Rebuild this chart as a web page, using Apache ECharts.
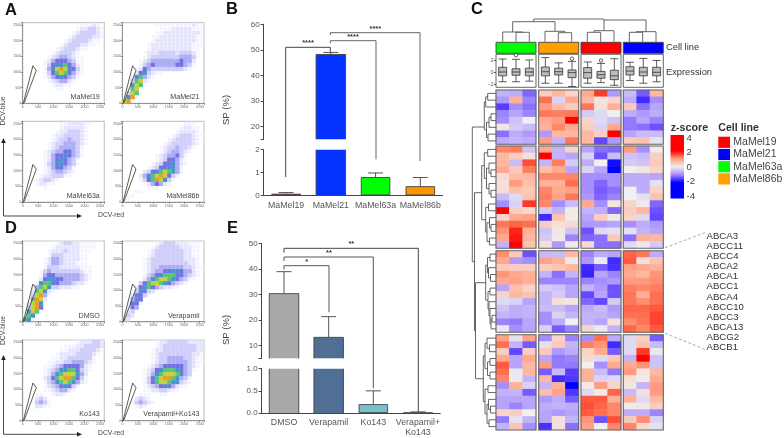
<!DOCTYPE html>
<html>
<head>
<meta charset="utf-8">
<style>html,body{margin:0;padding:0;background:#fff}#chart{width:784px;height:438px}</style>
<script src="https://cdn.jsdelivr.net/npm/echarts@6/dist/echarts.min.js"></script>
</head>
<body>
<div id="chart"></div>
<script>
// ---- bar panels ----
const spLines = ['MaMel19', 'MaMel21', 'MaMel63a', 'MaMel86b'];
const spValues = [0.07, 48.2, 0.8, 0.4];
const spErrors = [0.12, 49, 0.98, 0.78];
const spColors = ['#ff0000', '#0433ff', '#00ff00', '#ff9300'];

const drugs = ['DMSO', 'Verapamil', 'Ko143', 'Verapamil+\nKo143'];
const drugValues = [30.3, 13.2, 0.2, 0.005];
const drugErrors = [38.9, 21.3, 0.5, 0.025];
const drugColors = ['#a9a9a9', '#4f6f94', '#76c3cf', '#555555'];

// ---- flow panels: density level per cell, top row first ----
const densMel19 = ['00000000000000111210','00000000000001223321','00000000000012333321','00000000000123333221','00000000001233332110','00000000012333221100','00000000123332110000','00000001233321000000','00000012344321100000','00000124555431100000','00000135667542100000','00000146898653100000','00000135787542100000','00000124565431000000','00000012344210000000','00000001221100000000','00000000110000000000','00000000000000000000','00000000000000000000','10000000000000000000'];
const densMel21 = ['00000000111111111211','00000000011122222111','00000000112222222221','00000001122222222211','00000001222222222211','00000012222222222111','00000012222222222110','00000122233332333210','00000123333333444310','00001234444444544200','00001345444445543100','00012543333333321000','00025632110000000000','00167421000000000000','00378210000000000000','00687100000000000000','01781000000000000000','03871000000000000000','06910000000000000000','89100000000000000000'];
const densMel63a = ['00000000011222211000','00000000012222210000','00000000122333210000','00000001223333210000','00000001233433210000','00000012334443210000','00000012344443100000','00000123445543100000','00000124556543100000','00000124565431000000','00000134665431000000','00000124554310000000','00000123443210000000','00001223331100000000','00012332100000000000','00012211000000000000','00000100000000000000','00000000000000000000','01000000000000000000','11000000000000000000'];
const densMel86b = ['00000000000000011100','00000000000000122110','00000000000001222210','00000000000012333211','00000000000123333210','00000000001233333210','00000000012334332100','00000000012344321000','00000000123445310000','00000000123554210000','00000001235564210000','00000012355664100000','00000235678764100000','00002467898531000000','00001357986310000000','00000124542100000000','00000011100000000000','00011000000000000000','01100000000000000000','11000000000000000000'];
const densDmso = ['00000000123322111100','00000001222222111100','00000012223222111000','00000013332222110000','00000124432222110000','00000124432221110000','00000133322222111000','00001343333333211000','00001455444444321000','00002566554444321000','00016775544432210000','00147863322211000000','00278621000000000000','00389410000000000000','00798200000000000000','02896000000000000000','03895000000000000000','06870000000000000000','07610000000000000000','76100000000000000000'];
const densVera = ['00000000123332221110','00000001233333222110','00000012333333322110','00000012333333322110','00000123333333322210','00000123333333332210','00000123344444433211','00000123445566544210','00000134567775543210','00000246788765431100','00003578876543210000','00025675432211000000','00036532000000000000','00255310000000000000','00465000000000000000','01551000000000000000','01540000000000000000','02300000000000000000','03200000000000000000','32000000000000000000'];
const densKo = ['00000000000001222332','00000000001112233332','00000000011222333321','00000000122223333210','00000001122333333100','00000011223344432100','00000112345555421000','00000123466775321000','00000124678886420000','00000235789975310000','00000134678764210000','00000123456531000000','00000112344210000000','00011001221000000000','00023200000000000000','00134310000000000000','00022110000000000000','00000000000000000000','00000000000000000000','10000000000000000000'];
const densVeraKo = ['00000000122333332222','00000000123333333322','00000001223333333322','00000001233333333221','00000001233444433211','00000001233444443211','00000012345555543210','00000123567776543100','00000124678887643000','00000135789976431000','00000135788766321000','00000123456542110000','00000112233211000000','00001110011000000000','00023210000000000000','00134321000000000000','00012100000000000000','00000000000000000000','00000000000000000000','10000000000000000000'];
const gateRed = [20, 330, 440, 50, 20];
const gateBlue = [0, 1200, 1050, 20, 0];

// ---- heatmap z values, four sample groups of three columns per row ----
const zBlock1 = [
  [-0.8,-0.9,-1.6, 0.6,1.0,0.5, 1.2,2.5,-1.1, -0.7,-1.7,1.0],
  [-1.1,1.1,-1.3, 2.0,-0.4,1.2, 1.0,0.2,0.5, -0.9,-2.3,-1.2],
  [-2.0,-1.2,-1.5, 1.4,0.9,0.6, 1.9,0.3,1.1, 0.7,-1.5,-1.0],
  [-1.3,-1.0,-1.3, 1.9,1.8,1.9, -0.5,-0.3,0.0, -0.9,-1.1,-0.9],
  [-1.2,-0.6,0.0, 1.2,1.4,3.0, 0.5,-0.3,-0.6, -1.4,-1.0,-1.3],
  [0.2,-0.5,-0.7, 1.1,1.7,1.2, 0.6,-0.4,1.2, -1.4,-1.5,-1.8],
  [-1.5,-0.9,-1.1, -1.1,1.0,1.0, 1.0,0.6,3.0, -1.0,-0.7,-0.7],
  [-0.9,-0.8,-0.9, 1.4,-0.8,1.9, 1.0,-1.9,-1.1, 0.7,0.8,-0.2]
];
const zBlock2 = [
  [1.7,1.8,-0.6, 1.2,-0.8,0.5, -1.0,-1.5,-1.6, 1.4,-1.2,0.1],
  [1.0,0.6,0.3, 3.0,-0.8,-1.0, -0.4,-1.8,-0.7, -0.6,-0.7,0.6],
  [1.0,-0.7,2.3, -0.8,1.8,-0.5, -0.9,0.0,-2.8, -0.5,-0.6,0.7],
  [1.2,0.7,1.8, 0.9,1.2,-1.0, -0.4,-1.0,-3.0, 0.0,0.2,0.5],
  [0.4,0.9,1.0, 1.7,1.7,1.7, -1.2,-1.2,-1.2, -0.9,-0.9,-1.0],
  [0.3,1.4,0.9, 1.1,1.1,2.0, -1.2,-1.6,-1.2, -0.9,-0.9,-0.2],
  [0.3,0.9,0.7, 1.7,1.2,1.3, -1.2,-1.7,-1.5, 0.0,-0.9,0.5],
  [-0.7,-0.3,0.8, 1.8,1.3,1.9, -1.1,-1.6,-1.3, 0.0,-0.2,0.8],
  [-1.2,-0.4,2.5, 1.7,-1.2,-0.7, 1.2,-1.2,0.2, 0.5,0.1,-1.6],
  [3.0,0.6,0.4, -0.5,-0.8,0.1, -0.8,-0.9,-1.6, 0.6,1.0,-1.8],
  [0.5,1.2,1.3, -2.3,0.8,0.1, -1.0,0.6,0.1, 0.5,-0.3,-1.9],
  [1.9,2.1,2.0, 0.6,0.3,0.4, -1.1,-1.1,-1.0, -1.2,-0.9,-1.1],
  [1.5,2.7,1.1, -0.6,0.2,-0.6, -1.8,-0.3,-0.2, -0.2,-0.8,-1.0],
  [1.2,2.8,1.0, -0.5,0.1,-1.3, -1.6,-1.5,0.7, -1.5,1.1,1.0],
  [-0.8,3.0,0.8, 0.3,-1.1,0.1, 0.4,-1.5,-1.5, -0.3,-0.1,-0.5]
];
const zBlock3 = [
  [1.6,0.7,-1.8, -0.7,-0.7,1.0, -1.3,-0.9,-1.0, 2.1,1.9,-0.9],
  [1.2,-1.1,-1.2, 1.3,1.1,-0.1, -1.1,-0.1,-2.3, 2.2,0.3,0.8],
  [0.7,0.6,0.6, 0.6,0.8,1.0, -2.3,-1.7,-2.2, 1.3,1.2,1.1],
  [1.5,1.2,1.1, -0.8,-1.5,-0.8, -2.4,-1.0,-1.3, 1.2,1.0,1.5],
  [1.2,1.3,1.1, -1.3,-1.3,-1.3, -1.3,-1.2,-1.1, 1.4,1.4,1.6],
  [-1.0,0.9,0.5, -0.5,-0.6,-1.0, -0.8,-1.1,-1.8, 1.8,1.7,1.8],
  [0.5,1.0,0.8, -0.8,-0.5,-1.0, -1.9,-1.0,-1.8, 1.9,1.1,2.0],
  [-0.3,-0.4,-1.0, -0.8,0.3,0.2, -1.6,-1.9,-0.5, 1.9,1.6,2.0],
  [-0.6,-0.9,-0.8, -0.7,-0.7,-1.0, -0.9,-0.7,-1.1, 2.1,2.1,2.2],
  [-0.8,-0.9,-0.8, -1.2,-0.4,-0.8, -0.8,-0.8,-1.0, 2.0,2.0,2.4],
  [-1.3,-1.4,-1.0, -1.2,-0.9,0.0, -0.8,-1.0,0.3, 1.6,1.9,2.4],
  [-0.1,-1.2,-1.0, -0.4,-1.7,-1.3, 0.5,-0.1,-0.8, 2.1,1.7,2.2]
];
const zBlock4 = [
  [1.3,-0.2,1.3, -1.2,0.5,-1.3, -1.2,2.0,-0.9, -0.3,0.6,-1.7],
  [2.0,-0.8,-1.7, -0.2,0.7,-0.8, 1.8,1.5,-2.3, -0.3,0.8,-0.7],
  [0.6,-1.9,0.6, 0.7,-1.1,-0.9, 0.5,1.2,-1.7, -0.3,2.5,-0.1],
  [1.2,-1.0,1.2, -1.0,-1.4,-1.3, 0.4,-0.3,0.7, -0.8,3.0,-0.6],
  [2.2,-1.0,1.0, 1.4,-1.4,-1.4, 0.0,-1.2,1.2, 1.2,1.5,-0.6],
  [2.0,-0.1,1.0, -1.7,-0.7,-2.0, 1.1,-0.7,-1.4, 1.4,0.2,1.0],
  [1.7,-0.1,-0.8, 1.0,-2.3,-2.1, 1.1,-0.4,-0.3, 0.3,0.1,1.2],
  [-1.2,1.1,-0.4, -0.8,1.1,-3.0, 0.1,1.4,0.5, 0.2,-0.8,1.4],
  [-0.8,-0.8,-1.7, 0.9,1.3,-2.1, -0.3,0.1,2.1, -0.7,0.3,1.4],
  [-1.0,-1.0,-1.0, -1.1,-0.9,-1.7, 2.2,2.2,1.1, 1.1,-0.3,1.0],
  [-1.0,-1.3,-1.0, -0.9,-0.8,-0.9, 2.3,2.1,1.7, 0.1,0.2,0.6],
  [0.5,0.6,0.0, -1.0,-1.1,-1.0, 2.2,2.0,1.7, -0.9,-0.9,-1.3],
  [-1.4,-0.2,-0.8, -1.0,0.3,-0.8, 1.5,-1.8,2.3, 0.7,1.6,-0.4],
  [-0.8,0.8,-1.2, -2.2,0.3,-1.5, 1.3,0.0,1.7, 1.7,0.4,-0.2]
];

// ---- expression boxes: low, q1, median, q3, high per column ----
const boxMel63a = [[-1.6,-0.6,0.05,0.85,2.25],[-1.6,-0.5,0.05,0.6,2.2],[-1.5,-0.6,0.05,0.7,2.1]];
const boxMel86b = [[-1.85,-0.6,0.1,0.9,2.5],[-1.85,-0.45,0.1,0.7,1.6],[-2.4,-0.9,-0.05,0.4,1.85]];
const boxMel19 = [[-1.85,-1.0,-0.05,0.8,1.75],[-1.75,-1.0,-0.4,0.15,1.5],[-2.2,-1.25,-0.6,0.35,2.3]];
const boxMel21 = [[-1.4,-0.45,0.2,0.95,1.7],[-1.85,-0.6,0.05,0.85,2.35],[-1.6,-0.6,0.0,0.85,2.0]];
const outMel63a = [[1, 2.9]];
const outMel86b = [[2, 2.3]];
const outMel19 = [[1, 2.0]];
const outMel21 = [];

const legendLines = ['MaMel19', 'MaMel21', 'MaMel63a', 'MaMel86b'];
const legendColors = ['#ff0000', '#0000ff', '#00ff00', '#ff9f00'];
const groupColors = ['#00ff00', '#ff9f00', '#ff0000', '#0000ff'];
const zLegendTicks = ['4', '2', '0', '-2', '-4'];
const genes = ['ABCA3','ABCC11','ABCC4','ABCA2','ABCA1','ABCC1','ABCA4','ABCC10','ABCC3','ABCA13','ABCG2','ABCB1'];

// ---- layout ----
const FONT = '"Liberation Sans", Arial, sans-serif';
const levelColors = ['', '#f3f3ff', '#e4e4fd', '#cfcffa', '#adadf3', '#7272e2', '#4a92cc', '#58c478', '#c4d040', '#ec9a28'];
const levelSizes = [0, 3.2, 3.8, 4.35, 4.35, 4.35, 4.35, 4.35, 4.35, 4.35];

const grid = [], xAxis = [], yAxis = [], series = [], graphic = [];
const heatIdx = [];

function addGrid(g, xa, ya) {
  grid.push(g);
  xa.gridIndex = grid.length - 1;
  ya.gridIndex = grid.length - 1;
  xAxis.push(xa);
  yAxis.push(ya);
  return grid.length - 1;
}
function text(x, y, str, size, opt) {
  graphic.push({ type: 'text', x: x, y: y, z: 50, rotation: (opt && opt.rot) || 0, style: {
    text: str, fontFamily: FONT, fontSize: size, fontWeight: (opt && opt.bold) ? 'bold' : 'normal',
    fill: (opt && opt.color) || '#444', textAlign: (opt && opt.align) || 'left', textVerticalAlign: 'middle'
  }});
}
function poly(points, color, width, dash) {
  graphic.push({ type: 'polyline', z: 40, shape: { points: points }, style: {
    stroke: color || '#555', lineWidth: width || 1, fill: null, lineDash: dash || null } });
}
function box(x0, y0, x1, y1, fill, stroke, width) {
  graphic.push({ type: 'rect', z: 41, shape: { x: x0, y: y0, width: x1 - x0, height: y1 - y0 },
    style: { fill: fill || 'none', stroke: stroke || null, lineWidth: width || 1 } });
}

// ---- flow cytometry panels ----
const maxRed = 2640, maxBlue = 2575;
function flowPanel(left, top, dens, label, labelY) {
  const w = 81.6, h = 80.6;
  const flowLabel = { fontSize: 3.6, color: '#666', margin: 1.5, fontFamily: FONT, formatter: v => String(v) };
  const g = addGrid(
    { left: left, top: top, width: w, height: h, show: true, borderColor: '#c8c8c8', borderWidth: 1.2, backgroundColor: '#fff' },
    { type: 'value', min: 0, max: maxRed, interval: 500, axisLine: { lineStyle: { color: '#999', width: 1 } },
      axisTick: { length: 1.5, lineStyle: { color: '#333', width: 0.6 } }, minorTick: { show: true, splitNumber: 5, length: 1, lineStyle: { color: '#666', width: 0.4 } },
      splitLine: { show: false }, axisLabel: flowLabel },
    { type: 'value', min: 0, max: maxBlue, interval: 500, axisLine: { show: true, lineStyle: { color: '#999', width: 1 } },
      axisTick: { show: true, length: 1.5, lineStyle: { color: '#333', width: 0.6 } }, minorTick: { show: true, splitNumber: 5, length: 1, lineStyle: { color: '#666', width: 0.4 } },
      splitLine: { show: false }, axisLabel: flowLabel }
  );
  const cells = [];
  dens.forEach((row, r) => {
    for (let c = 0; c < row.length; c++) {
      const lv = +row[c];
      if (lv > 0) cells.push({ value: [(c + 0.5) / 20 * maxRed, (1 - (r + 0.5) / 20) * maxBlue], symbolSize: levelSizes[lv], itemStyle: { color: levelColors[lv] } });
    }
  });
  series.push({ type: 'scatter', xAxisIndex: g, yAxisIndex: g, symbol: 'rect', data: cells, itemStyle: { opacity: 1 }, silent: true, animation: false });
  series.push({ type: 'line', xAxisIndex: g, yAxisIndex: g, data: gateRed.map((v, i) => [v, gateBlue[i]]), symbol: 'none',
    lineStyle: { color: '#333', width: 0.8 }, silent: true, animation: false });
  text(left + w - 4.5, labelY, label, 7.1, { align: 'right', color: '#444' });
}
flowPanel(22.7, 22.7, densMel19, 'MaMel19', 97);
flowPanel(122.4, 22.7, densMel21, 'MaMel21', 97);
flowPanel(22.7, 121.4, densMel63a, 'MaMel63a', 195.7);
flowPanel(122.4, 121.4, densMel86b, 'MaMel86b', 195.7);
flowPanel(22.7, 241, densDmso, 'DMSO', 315.7);
flowPanel(122.4, 241, densVera, 'Verapamil', 315.7);
flowPanel(22.7, 340, densKo, 'Ko143', 414.3);
flowPanel(122.4, 340, densVeraKo, 'Verapamil+Ko143', 414.3);

function flowArrows(yTop, yBase, blueY, redY) {
  poly([[3.5, yTop], [3.5, yBase], [79, yBase]], '#333', 0.9);
  graphic.push({ type: 'polygon', z: 40, shape: { points: [[3.5, yTop - 3], [1.2, yTop + 2], [5.8, yTop + 2]] }, style: { fill: '#222' } });
  graphic.push({ type: 'polygon', z: 40, shape: { points: [[82, yBase], [77, yBase - 2.3], [77, yBase + 2.3]] }, style: { fill: '#222' } });
  text(3.5, blueY, 'DCV-blue', 6.8, { rot: Math.PI / 2, align: 'center' });
  text(111, redY, 'DCV-red', 6.8, { align: 'center' });
}
flowArrows(141, 216, 111, 215);
flowArrows(358, 434.3, 330.5, 433);

// ---- broken-axis bar panels ----
function errorSeries(g, rows, half) {
  return { type: 'custom', xAxisIndex: g, yAxisIndex: g, data: rows, silent: true, animation: false, z: 1,
    renderItem: (params, api) => {
      const a = api.coord([api.value(0), api.value(1)]);
      const b = api.coord([api.value(0), api.value(2)]);
      const st = { stroke: '#555', lineWidth: 1 };
      return { type: 'group', children: [
        { type: 'line', shape: { x1: a[0], y1: a[1], x2: b[0], y2: b[1] }, style: st },
        { type: 'line', shape: { x1: b[0] - half, y1: b[1], x2: b[0] + half, y2: b[1] }, style: st }
      ] };
    } };
}
// outline of a bar cut by the axis break: the sides, and the top if it is in this part of the axis
function outlineSeries(g, rows) {
  return { type: 'custom', xAxisIndex: g, yAxisIndex: g, data: rows, silent: true, animation: false, z: 3, clip: false,
    renderItem: (params, api) => {
      const a = api.coord([api.value(0), api.value(1)]);
      const b = api.coord([api.value(0), api.value(2)]);
      const half = 14.75;
      const pts = api.value(3)
        ? [[a[0] - half, a[1]], [a[0] - half, b[1]], [a[0] + half, b[1]], [a[0] + half, a[1]]]
        : null;
      if (pts) return { type: 'polyline', shape: { points: pts }, style: { stroke: '#444', lineWidth: 0.9, fill: null } };
      return { type: 'group', children: [
        { type: 'line', shape: { x1: a[0] - half, y1: a[1], x2: a[0] - half, y2: b[1] }, style: { stroke: '#444', lineWidth: 0.9 } },
        { type: 'line', shape: { x1: a[0] + half, y1: a[1], x2: a[0] + half, y2: b[1] }, style: { stroke: '#444', lineWidth: 0.9 } }
      ] };
    } };
}
function barPanel(cfg) {
  const base = { type: 'category', data: cfg.names, axisTick: { alignWithLabel: true, length: 3, lineStyle: { color: '#444' } },
    axisLine: { lineStyle: { color: '#444', width: 1 } },
    axisLabel: { fontSize: 8.8, color: '#555', margin: 5, lineHeight: 10, fontFamily: FONT, interval: 0 } };
  const ax = { axisLine: { show: true, onZero: false, lineStyle: { color: '#444', width: 1 } }, axisTick: { show: true, length: 3, lineStyle: { color: '#444' } },
    splitLine: { show: false }, axisLabel: { fontSize: 8, color: '#555', margin: 4, fontFamily: FONT } };
  const up = addGrid({ left: cfg.left, top: cfg.upTop, width: cfg.width, height: cfg.upH },
    Object.assign({}, base, { axisLine: { show: false }, axisTick: { show: false }, axisLabel: { show: false } }),
    Object.assign({ type: 'value', min: cfg.brk, max: cfg.top }, ax, {
      axisTick: Object.assign({}, ax.axisTick, { customValues: [cfg.brk].concat(cfg.upTicks) }),
      axisLabel: Object.assign({}, ax.axisLabel, { customValues: cfg.upTicks }) }));
  const low = addGrid({ left: cfg.left, top: cfg.lowTop, width: cfg.width, height: cfg.lowH }, base,
    Object.assign({ type: 'value', min: 0, max: cfg.lowMax, interval: cfg.lowStep }, ax, {
      axisLabel: Object.assign({}, ax.axisLabel, { formatter: cfg.lowFmt }) }));
  const bars = lim => cfg.values.map((v, i) => ({
    value: lim(v) ? v : '-',
    itemStyle: { color: cfg.colors[i], borderColor: '#444', borderWidth: v > cfg.lowMax ? 0 : 0.9 }
  }));
  series.push({ type: 'bar', xAxisIndex: up, yAxisIndex: up, data: bars(v => v > cfg.brk), barWidth: 29.5, animation: false, silent: true });
  series.push({ type: 'bar', xAxisIndex: low, yAxisIndex: low, data: bars(() => true), barWidth: 29.5, animation: false, silent: true });
  series.push(errorSeries(up, cfg.errors.map((e, i) => [i, cfg.values[i], e]).filter(r => r[2] > cfg.brk), 7.5));
  series.push(errorSeries(low, cfg.errors.map((e, i) => [i, cfg.values[i], e]).filter(r => r[2] <= cfg.lowMax), 7.5));
  const cut = cfg.values.map((v, i) => [i, v]).filter(r => r[1] > cfg.brk);
  series.push(outlineSeries(up, cut.map(r => [r[0], cfg.brk, r[1], 1])));
  series.push(outlineSeries(low, cut.map(r => [r[0], 0, cfg.lowMax, 0])));
}
barPanel({ names: spLines, values: spValues, errors: spErrors, colors: spColors, left: 263.7, width: 179,
  upTop: 24.3, upH: 115, lowTop: 149.7, lowH: 45.6, brk: 15, top: 60, upTicks: [20, 30, 40, 50, 60], lowMax: 2, lowStep: 1 });
barPanel({ names: drugs, values: drugValues, errors: drugErrors, colors: drugColors, left: 261.7, width: 178.6,
  upTop: 243.3, upH: 115, lowTop: 368.7, lowH: 45.6, brk: 5, top: 50, upTicks: [10, 20, 30, 40, 50], lowMax: 1, lowStep: 0.5, lowFmt: v => v.toFixed(1) });

text(226, 110, 'SP (%)', 9.5, { rot: Math.PI / 2, align: 'center' });
text(226, 330, 'SP (%)', 9.5, { rot: Math.PI / 2, align: 'center' });

// significance brackets
poly([[285.7, 177], [285.7, 47.3], [330.3, 47.3], [330.3, 52]], '#444');
poly([[330.3, 43.3], [330.3, 40.7], [376, 40.7], [376, 159.3]], '#666');
poly([[330.3, 35], [330.3, 32.7], [420, 32.7], [420, 161]], '#666');
text(308, 43, '****', 7.5, { bold: true, align: 'center', color: '#333' });
text(353, 36.5, '****', 7.5, { bold: true, align: 'center', color: '#333' });
text(375.3, 28.5, '****', 7.5, { bold: true, align: 'center', color: '#333' });
poly([[284, 269.3], [284, 265.7], [329, 265.7], [329, 312.3]], '#555');
poly([[284, 261], [284, 257], [373.3, 257], [373.3, 388.3]], '#555');
poly([[284, 252.7], [284, 248.3], [418.3, 248.3], [418.3, 411.7]], '#444');
text(306.7, 261.5, '*', 7.5, { bold: true, align: 'center', color: '#333' });
text(329, 252.5, '**', 7.5, { bold: true, align: 'center', color: '#333' });
text(351.3, 244, '**', 7.5, { bold: true, align: 'center', color: '#333' });

// ---- heatmap panel ----
const groupLeft = [496, 538.7, 581, 623.3];
const groupW = 40;
const blocks = [zBlock1, zBlock2, zBlock3, zBlock4];
const blockTop = [90, 146, 250.7, 334.7];
const blockH = [54.3, 102.3, 81.6, 95.3];
const samples = ['s1', 's2', 's3'];

blocks.forEach((rows, b) => {
  groupLeft.forEach((left, k) => {
    const g = addGrid({ left: left, top: blockTop[b], width: groupW, height: blockH[b] },
      { type: 'category', data: samples, show: false },
      { type: 'category', data: rows.map((r, i) => 'r' + i), inverse: true, show: false });
    const cells = [];
    rows.forEach((r, i) => { for (let c = 0; c < 3; c++) cells.push([c, i, r[k * 3 + c]]); });
    heatIdx.push(series.length);
    series.push({ type: 'heatmap', xAxisIndex: g, yAxisIndex: g, data: cells, silent: true, animation: false });
    box(left, blockTop[b], left + groupW, blockTop[b] + blockH[b], 'none', '#666', 1.1);
  });
});

// expression boxes and the colour strip on top of them
[boxMel63a, boxMel86b, boxMel19, boxMel21].forEach((rows, k) => {
  const outs = [outMel63a, outMel86b, outMel19, outMel21][k];
  const g = addGrid({ left: groupLeft[k], top: 54.3, width: groupW, height: 33, show: true, borderColor: '#666', borderWidth: 1 },
    { type: 'category', data: samples, show: false },
    { type: 'value', min: -2.54, max: 3.05, show: k === 0, axisLine: { show: false }, splitLine: { show: false },
      axisTick: { show: true, length: 2, customValues: [-2, 0, 2], lineStyle: { color: '#555' } },
      axisLabel: { fontSize: 5.5, color: '#555', margin: 2.5, customValues: [-2, 0, 2], fontFamily: FONT } });
  series.push({ type: 'boxplot', xAxisIndex: g, yAxisIndex: g, data: rows, boxWidth: [8, 8], silent: true, animation: false,
    itemStyle: { color: '#bdbdbd', borderColor: '#333', borderWidth: 0.8 } });
  series.push({ type: 'scatter', xAxisIndex: g, yAxisIndex: g, data: outs, symbol: 'circle', symbolSize: 3.4, silent: true, animation: false,
    itemStyle: { color: '#fff', borderColor: '#333', borderWidth: 0.8, opacity: 1 } });
  box(groupLeft[k], 42.3, groupLeft[k] + groupW, 53.3, groupColors[k], '#444', 0.9);
});
text(666, 47.5, 'Cell line', 9.3, { color: '#333' });
text(666, 72, 'Expression', 9.3, { color: '#333' });

// dendrograms: [height, childA, childB, optional attach position], numbers are leaves
function drawTree(node, leafH, horizontal, color) {
  const seg = (h0, p0, h1, p1) => horizontal
    ? poly([[p0, h0], [p1, h1]], color, 0.9)
    : poly([[h0, p0], [h1, p1]], color, 0.9);
  const walk = n => {
    if (typeof n === 'number') return { h: leafH, p: n };
    const a = walk(n[1]), b = walk(n[2]);
    seg(n[0], a.p, n[0], b.p);
    seg(n[0], a.p, a.h, a.p);
    seg(n[0], b.p, b.h, b.p);
    return { h: n[0], p: n.length > 3 ? n[3] : (a.p + b.p) / 2 };
  };
  walk(node);
}
const topTree = [19,
  [21.7, [32, 502.7, [32.3, 516, 529.3]], [31.3, 545, [32.7, 558.3, 571.7]]],
  [20, [30.7, [32.3, 587.3, 600.7], 614], [31.7, [32.3, 629.3, 642.7], 656], 603.3]];
drawTree(topTree, 41.7, true, '#555');

function leaves(tree, b) {
  const step = blockH[b] / blocks[b].length;
  const conv = n => typeof n === 'number' ? blockTop[b] + (n + 0.5) * step : [n[0], conv(n[1]), conv(n[2])].concat(n.slice(3));
  return conv(tree);
}
const rowTree1 = [484.3, [485.7, [487.7, 0, 1], 2], [486.5, [489, [491, 3, 4], 5], [488, 6, 7]]];
const rowTree2 = [481.7,
  [484.3, [487.7, 0, 1], [486.5, [489, 2, [491, 3, 4]], [489, 5, [491, 6, 7]]]],
  [485.7, [488.5, 8, 9], [487, [489.5, 10, [491, 11, 12]], [489.5, 13, 14]]]];
const rowTree3 = [485.7,
  [487.5, [490, 0, 1], [488.5, 2, [490.5, 3, 4]]],
  [488, [490, 5, 6], [489, 7, [490, 8, [491, [492, 9, 10], 11]]]]];
const rowTree4 = [483.3,
  [485, [487, 0, [489.5, 1, 2]], [487.5, [490, 3, 4], [490, 5, 6]]],
  [485, [488, 7, 8], [487, [488.5, 9, [490.5, 10, 11]], [489, 12, 13]]]];
const rowTree = [472.3, leaves(rowTree1, 0).concat([127]), [474.5, leaves(rowTree2, 1), [475.5, leaves(rowTree3, 2), leaves(rowTree4, 3)]]];
drawTree(rowTree, 496, false, '#555');

// legends
text(670.7, 127.7, 'z-score', 10.7, { bold: true, color: '#333' });
graphic.push({ type: 'rect', z: 41, shape: { x: 670.5, y: 135, width: 13.5, height: 63.5 }, style: {
  fill: { type: 'linear', x: 0, y: 0, x2: 0, y2: 1, colorStops: [
    { offset: 0, color: '#ff0000' }, { offset: 0.25, color: '#ff0000' }, { offset: 0.375, color: '#ff9e81' },
    { offset: 0.5, color: '#eeeeee' }, { offset: 0.625, color: '#a78bff' }, { offset: 0.75, color: '#0000ff' }, { offset: 1, color: '#0000ff' }] } } });
zLegendTicks.forEach((t, i) => {
  const y = 138 + i * 14.5;
  poly([[670.5, y], [673.5, y]], '#fff', 0.8);
  poly([[681, y], [684, y]], '#fff', 0.8);
  text(686.5, y, t, 9.5, { color: '#444' });
});
text(718.3, 127.7, 'Cell line', 10.6, { bold: true, color: '#333' });
legendLines.forEach((name, i) => {
  const y = 136.7 + i * 12.2;
  box(718.3, y, 730, y + 11.2, legendColors[i], null);
  text(733.3, y + 5.6, name, 10.5, { color: '#444' });
});
genes.forEach((g, i) => text(706.5, 236 + i * 10.15, g, 9.6, { color: '#333' }));
poly([[665, 247.7], [705, 232.7]], '#999', 0.8, [3, 2]);
poly([[665, 333.3], [705, 349.3]], '#999', 0.8, [3, 2]);

// panel letters
text(5, 10, 'A', 16.5, { bold: true, color: '#111' });
text(226, 9, 'B', 16.5, { bold: true, color: '#111' });
text(471, 9, 'C', 16.5, { bold: true, color: '#111' });
text(5, 228, 'D', 16.5, { bold: true, color: '#111' });
text(227, 228, 'E', 16.5, { bold: true, color: '#111' });

const chart = echarts.init(document.getElementById('chart'), null, { renderer: 'canvas' });
chart.setOption({
  animation: false,
  backgroundColor: '#fff',
  grid: grid,
  xAxis: xAxis,
  yAxis: yAxis,
  visualMap: [{ show: false, min: -3, max: 3, seriesIndex: heatIdx, inRange: { color: ['#0000ff', '#5a3cff', '#b8a4fb', '#f0f0f0', '#ffb8a0', '#ff7050', '#ff0000'] } }],
  series: series,
  graphic: graphic
});
</script>
</body>
</html>
